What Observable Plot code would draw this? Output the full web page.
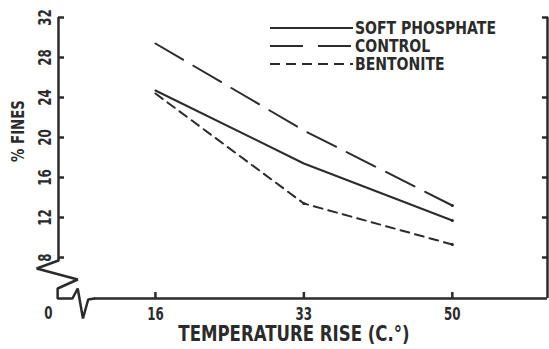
<!DOCTYPE html>
<html>
<head>
<meta charset="utf-8">
<script src="https://cdn.jsdelivr.net/npm/d3@7"></script>
<script src="https://cdn.jsdelivr.net/npm/@observablehq/plot@0.6"></script>
<style>
  html, body { margin: 0; padding: 0; background: #fff; }
  #chart { position: relative; width: 549px; height: 349px; }
  svg { font-family: "DejaVu Sans", "Liberation Sans", sans-serif; font-weight: bold; }
</style>
</head>
<body>
<div id="chart"></div>
<script>
// ---- data ----
const temps = [16, 33, 50];
const softPhosphate = [24.7, 17.4, 11.7];
const control = [29.4, 20.7, 13.2];
const bentonite = [24.4, 13.4, 9.3];
const seriesNames = ["SOFT PHOSPHATE", "CONTROL", "BENTONITE"];
const xTicks = [16, 33, 50];
const yTicks = [8, 12, 16, 20, 24, 28, 32];
const xTitle = "TEMPERATURE RISE (C.°)";
const yTitle = "% FINES";
const originLabel = "0";

// axis decoration (broken axes), in data units
const xDomain = [4.9, 60.9];
const yDomain = [3.9, 32];
const leftAxisBottom = 7.7;
const breakShape = [
  [4.9, 7.7], [2.4, 6.9], [7.1, 5.8], [4.8, 4.9], [4.8, 3.9], [6.5, 3.9],
  [7.1, 4.9], [7.7, 1.9], [8.3, 3.8], [9.0, 3.9]
];

const ink = "#2b2b2b";
const dashes = { "SOFT PHOSPHATE": null, "CONTROL": "32,12", "BENTONITE": "9,6" };

const rows = [];
seriesNames.forEach((name, i) => {
  const vals = [softPhosphate, control, bentonite][i];
  temps.forEach((t, j) => rows.push({ series: name, temp: t, value: vals[j] }));
});

const lineMarks = seriesNames.map(name =>
  Plot.line(rows.filter(r => r.series === name), {
    x: "temp", y: "value", stroke: ink, strokeWidth: 2,
    strokeDasharray: dashes[name]
  })
);

const plot = Plot.plot({
  width: 549,
  height: 349,
  marginTop: 17,
  marginBottom: 51,
  marginLeft: 58,
  marginRight: 2,
  x: { domain: xDomain },
  y: { domain: yDomain },
  style: { background: "transparent", color: ink, overflow: "visible" },
  marks: [
    // frame: left (broken), bottom, right
    Plot.ruleX([xDomain[0]], { y1: leftAxisBottom, y2: yDomain[1], stroke: ink, strokeWidth: 2.5 }),
    Plot.line(breakShape, { x: d => d[0], y: d => d[1], stroke: ink, strokeWidth: 2.5, strokeLinejoin: "miter" }),
    Plot.ruleY([yDomain[0]], { x1: breakShape[breakShape.length - 1][0], x2: xDomain[1], stroke: ink, strokeWidth: 2.5 }),
    Plot.ruleX([xDomain[1]], { y1: yDomain[0], y2: yDomain[1], stroke: ink, strokeWidth: 2.5 }),
    // inward ticks
    Plot.axisY({ ticks: yTicks, anchor: "left", tickSize: 6, dx: 6, tickFormat: () => "", label: null, strokeWidth: 2.5, stroke: ink }),
    Plot.axisY({ ticks: yTicks, anchor: "right", tickSize: 6, dx: -6, tickFormat: () => "", label: null, strokeWidth: 2.5, stroke: ink }),
    Plot.axisX({ ticks: xTicks, anchor: "bottom", tickSize: 6, dy: -6, tickFormat: () => "", label: null, strokeWidth: 2.5, stroke: ink }),
    // tick labels
    Plot.text(yTicks, { y: d => d, text: d => String(d), frameAnchor: "left", dx: -13, rotate: -90, fontSize: 18, fontWeight: "bold", fill: ink, lineAnchor: "middle", textAnchor: "middle", className: "sq-tick" }),
    Plot.text(xTicks, { x: d => d, text: d => String(d), frameAnchor: "bottom", dy: 16, fontSize: 18, fontWeight: "bold", fill: ink, lineAnchor: "middle", textAnchor: "middle", className: "sq-tick" }),
    Plot.text([originLabel], { text: d => d, frameAnchor: "bottom-left", dx: -10, dy: 15, fontSize: 18, fontWeight: "bold", fill: ink, lineAnchor: "middle", textAnchor: "middle", className: "sq-tick" }),
    // axis titles
    Plot.text([xTitle], { text: d => d, frameAnchor: "bottom", dx: -9, dy: 36, fontSize: 21, fontWeight: "bold", fill: ink, lineAnchor: "middle", textAnchor: "middle", className: "sq-xtitle" }),
    Plot.text([yTitle], { text: d => d, frameAnchor: "left", dx: -40, dy: -27, rotate: -90, fontSize: 18, fontWeight: "bold", fill: ink, lineAnchor: "middle", textAnchor: "middle", className: "sq-ytitle" }),
    // data
    ...lineMarks,
    Plot.dot(rows.filter(r => r.temp === 50 || (r.series === "BENTONITE" && r.temp === 33)), { x: "temp", y: "value", r: 1.6, fill: ink, stroke: "none" })
  ]
});

document.getElementById("chart").appendChild(plot);

// legend (inside plot area, top right)
const svg = d3.select(plot);
const lg = svg.append("g").attr("class", "legend").attr("text-anchor", "start");
const legendY = [28, 46, 64];
seriesNames.forEach((name, i) => {
  const ln = lg.append("line")
    .attr("x1", 270).attr("x2", 353)
    .attr("y1", legendY[i]).attr("y2", legendY[i])
    .attr("stroke", ink).attr("stroke-width", 2);
  if (name === "CONTROL") ln.attr("stroke-dasharray", "33,15");
  if (name === "BENTONITE") ln.attr("stroke-dasharray", "10,6");
  lg.append("text")
    .attr("class", "sq-legend")
    .attr("x", 355).attr("y", legendY[i])
    .attr("dy", "0.36em")
    .attr("font-size", 18).attr("font-weight", "bold")
    .attr("fill", ink)
    .attr("text-anchor", "start")
    .text(name);
});

// emulate the condensed typeface of the original by scaling glyphs along the text direction,
// about a pivot inside each text's own box (positions are left untouched)
function squeeze(sel, k, pivot) {
  svg.selectAll(sel).each(function () {
    const b = this.getBBox();
    const px = pivot === "start" ? b.x : b.x + b.width / 2;
    const t = this.getAttribute("transform") || "";
    this.setAttribute("transform",
      `${t} translate(${px},0) scale(${k},1) translate(${-px},0)`.trim());
  });
}
squeeze(".sq-tick text", 0.66, "middle");
squeeze(".sq-legend", 0.78, "start");
squeeze(".sq-ytitle text", 0.74, "middle");
squeeze(".sq-xtitle text", 0.79, "middle");
</script>
</body>
</html>
